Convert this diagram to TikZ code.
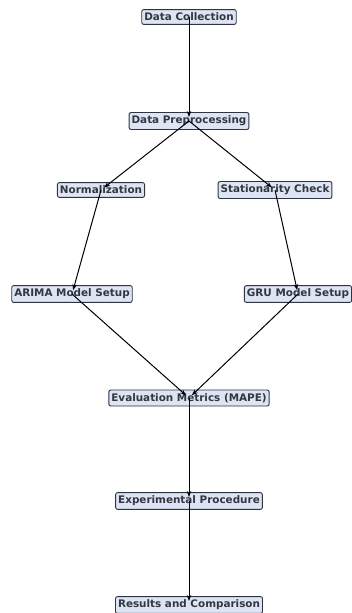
\documentclass[tikz,border=0pt]{standalone}
\usepackage{fontspec}
\setmainfont{DejaVu Sans}
\usepackage{tikz}
\usetikzlibrary{arrows.meta}
\definecolor{boxfill}{HTML}{DDE4F4}
\definecolor{boxline}{HTML}{2E3440}
\definecolor{boxtext}{HTML}{333740}

\begin{document}
\begin{tikzpicture}[x=1pt,y=-1pt,>={Stealth[length=6pt,width=4.5pt]},
    step box/.style={draw=boxline,fill=boxfill,text=boxtext,rounded corners=2pt,line width=0.9pt,
        font=\fontsize{10.4}{12}\selectfont\bfseries,inner xsep=2.5pt,inner ysep=3.4pt},
    flow/.style={->,line width=1pt,shorten >=4pt}]
        \useasboundingbox (0,0) rectangle (351,613);
        \node[step box] (collect) at (189,17) {Data Collection};
        \node[step box] (prep) at (189,121) {Data Preprocessing};
        \node[step box] (norm) at (101,190) {Normalization};
        \node[step box] (stat) at (275,190) {Stationarity Check};
        \node[step box] (arima) at (72,294) {ARIMA Model Setup};
        \node[step box] (gru) at (298,294) {GRU Model Setup};
        \node[step box] (eval) at (189,398) {Evaluation Metrics (MAPE)};
        \node[step box] (exper) at (189,501) {Experimental Procedure};
        \node[step box] (result) at (189,605) {Results and Comparison};
        \draw[flow] (collect.center)--(prep.center);
        \draw[flow] (prep.center)--(norm.center);
        \draw[flow] (prep.center)--(stat.center);
        \draw[flow] (norm.center)--(arima.center);
        \draw[flow] (stat.center)--(gru.center);
        \draw[flow] (arima.center)--(eval.center);
        \draw[flow] (gru.center)--(eval.center);
        \draw[flow] (eval.center)--(exper.center);
        \draw[flow] (exper.center)--(result.center);
    \end{tikzpicture}
\end{document}
